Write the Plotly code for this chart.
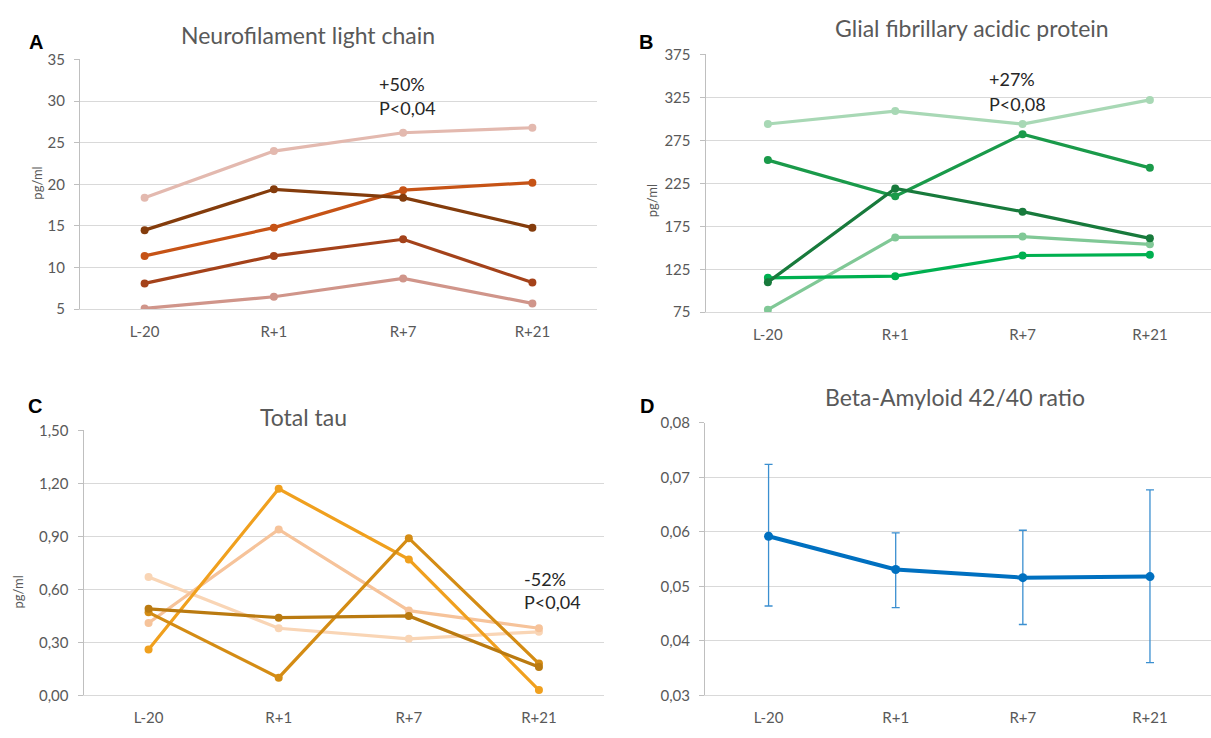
import plotly.graph_objects as go

# Sampling days
days = ["L-20", "R+1", "R+7", "R+21"]

# A: Neurofilament light chain (pg/ml), one series per subject
nfl_1 = [18.4, 24.0, 26.2, 26.8]
nfl_2 = [14.5, 19.4, 18.4, 14.8]
nfl_3 = [11.4, 14.8, 19.3, 20.2]
nfl_4 = [8.1, 11.4, 13.4, 8.2]
nfl_5 = [5.1, 6.5, 8.7, 5.7]

# B: Glial fibrillary acidic protein (pg/ml)
gfap_1 = [294, 309, 294, 322]
gfap_2 = [252, 210, 282, 243]
gfap_3 = [110, 219, 192, 161]
gfap_4 = [78, 162, 163, 154]
gfap_5 = [115, 117, 141, 142]

# C: Total tau (pg/ml)
tau_1 = [0.26, 1.17, 0.77, 0.03]
tau_2 = [0.41, 0.94, 0.48, 0.38]
tau_3 = [0.67, 0.38, 0.32, 0.36]
tau_4 = [0.49, 0.44, 0.45, 0.16]
tau_5 = [0.47, 0.10, 0.89, 0.18]

# D: Beta-amyloid 42/40 ratio, mean with upper / lower error limits
ab_mean = [0.0592, 0.0531, 0.0516, 0.0518]
ab_upper = [0.0724, 0.0598, 0.0603, 0.0677]
ab_lower = [0.0464, 0.0461, 0.0430, 0.0360]

# Tick labels (decimal comma)
nfl_ticks = [5, 10, 15, 20, 25, 30, 35]
nfl_ticktext = ["5", "10", "15", "20", "25", "30", "35"]
gfap_ticks = [75, 125, 175, 225, 275, 325, 375]
gfap_ticktext = ["75", "125", "175", "225", "275", "325", "375"]
tau_ticks = [0.0, 0.3, 0.6, 0.9, 1.2, 1.5]
tau_ticktext = ["0,00", "0,30", "0,60", "0,90", "1,20", "1,50"]
ab_ticks = [0.03, 0.04, 0.05, 0.06, 0.07, 0.08]
ab_ticktext = ["0,03", "0,04", "0,05", "0,06", "0,07", "0,08"]

W, H = 1211, 738
FONT = "Lato"
GREY = "#595959"
GRID = "#D9D9D9"
AXIS = "#BFBFBF"


def px_x(x):
    return x / W


def px_y(y):
    return 1 - y / H


fig = go.Figure()


def add_series(values, color, xa, ya, width=3.2, size=8):
    fig.add_trace(go.Scatter(
        x=days, y=values, mode="lines+markers",
        line=dict(color=color, width=width),
        marker=dict(color=color, size=size),
        xaxis=xa, yaxis=ya, showlegend=False, hoverinfo="x+y",
    ))


# Panel A
for vals, col in [(nfl_1, "#E3B9AF"), (nfl_5, "#D0958A"), (nfl_4, "#A4421A"),
                  (nfl_3, "#C65316"), (nfl_2, "#843C0C")]:
    add_series(vals, col, "x", "y")

# Panel B
for vals, col in [(gfap_1, "#A8D8B5"), (gfap_4, "#80C896"), (gfap_5, "#00B050"),
                  (gfap_2, "#1A9A4A"), (gfap_3, "#187A3C")]:
    add_series(vals, col, "x2", "y2")

# Panel C
for vals, col in [(tau_3, "#F9D5B5"), (tau_2, "#F6C39A"), (tau_1, "#F0A01E"),
                  (tau_5, "#D48C14"), (tau_4, "#BA7A10")]:
    add_series(vals, col, "x3", "y3")

# Panel D: mean with asymmetric error bars
fig.add_trace(go.Scatter(
    x=days, y=ab_mean, mode="lines+markers",
    line=dict(color="#0070C0", width=4),
    marker=dict(color="#0070C0", size=9),
    error_y=dict(
        type="data", symmetric=False,
        array=[u - m for u, m in zip(ab_upper, ab_mean)],
        arrayminus=[m - l for m, l in zip(ab_mean, ab_lower)],
        color="#3B8FD0", thickness=1.3, width=4,
    ),
    xaxis="x4", yaxis="y4", showlegend=False,
))

tick_font = dict(family=FONT, size=15, color=GREY)


def xaxis(left, right, rng):
    return dict(
        domain=[px_x(left), px_x(right)], type="category", range=rng,
        showgrid=False, showline=True, linecolor=GRID, linewidth=1,
        ticks="", tickfont=tick_font, ticklabelstandoff=9, fixedrange=True,
    )


def yaxis(top, bottom, rng, tv, tt):
    return dict(
        domain=[px_y(bottom), px_y(top)], range=rng,
        tickvals=tv, ticktext=tt, tickfont=tick_font,
        showgrid=True, gridcolor=GRID, gridwidth=1,
        showline=True, linecolor=AXIS, linewidth=1,
        ticks="outside", ticklen=5, tickcolor=AXIS,
        ticklabelstandoff=6, zeroline=False, fixedrange=True,
    )


fig.update_layout(
    width=W, height=H, margin=dict(l=0, r=0, t=0, b=0),
    paper_bgcolor="white", plot_bgcolor="white",
    font=dict(family=FONT, color=GREY),
    xaxis=xaxis(80, 597, [-0.5, 3.5]),
    yaxis=yaxis(50.7, 306.7, [5, 35], nfl_ticks, nfl_ticktext),
    xaxis2=xaxis(705.5, 1211, [-0.49, 3.48]),
    yaxis2=yaxis(45.5, 309.8, [75, 375], gfap_ticks, gfap_ticktext),
    xaxis3=xaxis(83.5, 604, [-0.5, 3.5]),
    yaxis3=yaxis(431, 702.5, [0, 1.5], tau_ticks, tau_ticktext),
    xaxis4=xaxis(705, 1211, [-0.5, 3.48]),
    yaxis4=yaxis(423.2, 702.5, [0.03, 0.08], ab_ticks, ab_ticktext),
)
fig.layout.xaxis2.anchor = "y2"
fig.layout.yaxis2.anchor = "x2"
fig.layout.xaxis3.anchor = "y3"
fig.layout.yaxis3.anchor = "x3"
fig.layout.xaxis4.anchor = "y4"
fig.layout.yaxis4.anchor = "x4"

annotations = []


def text(x, y, s, size, color=GREY, bold=False, xanchor="center", angle=0, family=FONT):
    annotations.append(dict(
        x=px_x(x), y=px_y(y), xref="paper", yref="paper",
        text=f"<b>{s}</b>" if bold else s, showarrow=False,
        xanchor=xanchor, yanchor="middle", textangle=angle,
        font=dict(family=family, size=size, color=color),
    ))


# Panel titles
text(308, 26, "Neurofilament light chain", 23)
text(972, 18, "Glial fibrillary acidic protein", 23)
text(303, 417, "Total tau", 23)
text(955, 397, "Beta-Amyloid 42/40 ratio", 23)

# Panel letters
for lx, ly, lt in [(36, 33, "A"), (646, 33, "B"), (35, 406, "C"), (647, 406, "D")]:
    text(lx, ly, lt, 20, color="black", bold=True, family="Liberation Sans")

# y-axis titles
text(37, 178, "pg/ml", 13, angle=-90)
text(652, 196, "pg/ml", 13, angle=-90)
text(18, 597, "pg/ml", 13, angle=-90)

# Change / significance notes
ANN = "#262626"
text(377, 76, "+50%", 18, color=ANN, xanchor="left")
text(377, 100, "P&lt;0,04", 18, color=ANN, xanchor="left")
text(987, 71, "+27%", 18, color=ANN, xanchor="left")
text(987, 96, "P&lt;0,08", 18, color=ANN, xanchor="left")
text(522, 583, "-52%", 18, color=ANN, xanchor="left")
text(522, 607, "P&lt;0,04", 18, color=ANN, xanchor="left")

fig.update_layout(annotations=annotations)

fig.write_html("out.html")
